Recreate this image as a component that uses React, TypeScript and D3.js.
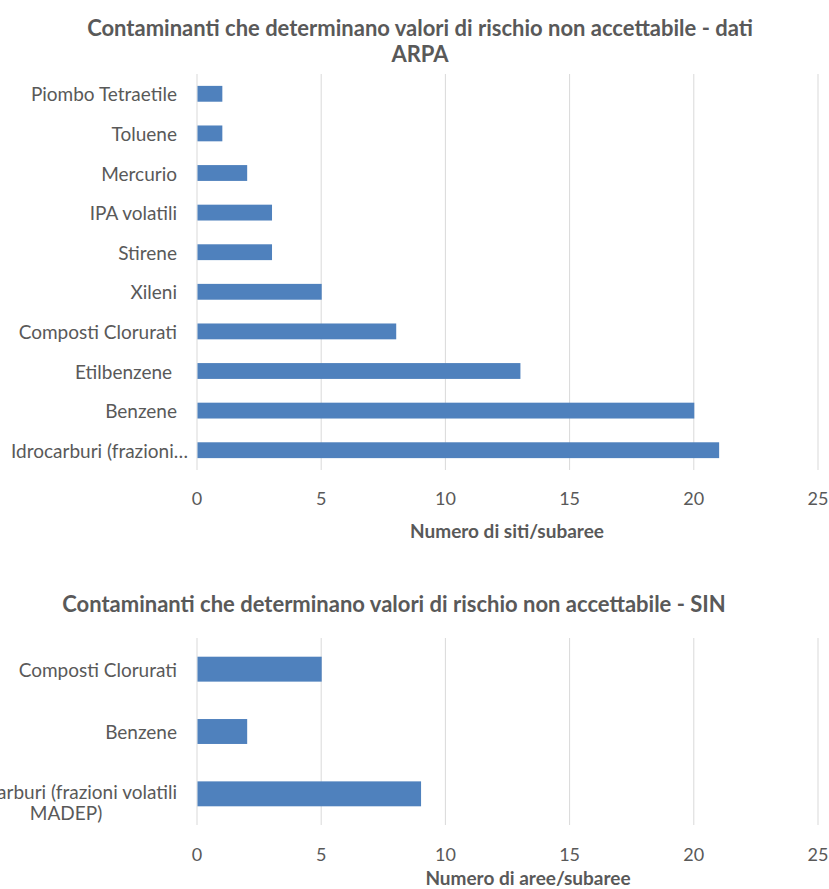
import { useEffect, useRef } from "react";
import * as d3 from "d3";

const arpaTitle = ["Contaminanti che determinano valori di rischio non accettabile - dati", "ARPA"];
const arpaCategories = [
    "Piombo Tetraetile",
    "Toluene",
    "Mercurio",
    "IPA volatili",
    "Stirene",
    "Xileni",
    "Composti Clorurati",
    "Etilbenzene ",
    "Benzene",
    "Idrocarburi (frazioni…",
];
const arpaValues = [1, 1, 2, 3, 3, 5, 8, 13, 20, 21];
const arpaAxisTitle = "Numero di siti/subaree";

const sinTitle = ["Contaminanti che determinano valori di rischio non accettabile - SIN"];
const sinCategories = ["Composti Clorurati", "Benzene", "Idrocarburi (frazioni volatili|MADEP)"];
const sinValues = [5, 2, 9];
const sinAxisTitle = "Numero di aree/subaree";

const xTicks = [0, 5, 10, 15, 20, 25];

const FONT = "Lato, 'Open Sans', sans-serif";
const TEXT = "#595959";
const GRID = "#d9d9d9";
const BAR = "#4f81bd";

export default function App() {
    const svgRef = useRef<SVGSVGElement>(null);

    useEffect(() => {
        if (!svgRef.current) return;
        const svg = d3.select(svgRef.current);
        svg.selectAll("*").remove();

        const x = d3.scaleLinear().domain([0, 25]).range([197, 818]);

        const drawChart = (opts: {
            title: string[];
            titleX: number;
            titleY: number;
            cats: string[];
            vals: number[];
            top: number;
            bottom: number;
            tickY: number;
            axisTitle: string;
            axisTitleX: number;
            axisTitleY: number;
        }) => {
            const g = svg.append("g");

            // Title
            opts.title.forEach((t, i) => {
                g.append("text")
                    .attr("x", opts.titleX)
                    .attr("y", opts.titleY + i * 26)
                    .attr("text-anchor", "middle")
                    .attr("dominant-baseline", "central")
                    .attr("font-size", "22px")
                    .attr("font-weight", "bold")
                    .attr("fill", TEXT)
                    .text(t);
            });

            const y = d3.scaleBand()
                .domain(opts.cats)
                .range([opts.top, opts.bottom])
                .paddingInner(0.6)
                .paddingOuter(0.3);

            // Grid
            g.selectAll(".grid")
                .data(xTicks)
                .join("line")
                .attr("x1", d => x(d)).attr("x2", d => x(d))
                .attr("y1", opts.top).attr("y2", opts.bottom)
                .attr("stroke", GRID)
                .attr("stroke-width", 1);

            // Bars
            g.selectAll(".bar")
                .data(opts.vals)
                .join("rect")
                .attr("x", x(0) + 0.5)
                .attr("y", (_, i) => y(opts.cats[i])!)
                .attr("width", d => x(d) - x(0))
                .attr("height", y.bandwidth())
                .attr("fill", BAR);

            // Category labels
            opts.cats.forEach(c => {
                const cy = y(c)! + y.bandwidth() / 2;
                const lines = c.split("|");
                if (lines.length === 1) {
                    const trunc = c.endsWith("…");
                    g.append("text")
                        .attr("x", trunc ? 11 : x(0) - 20)
                        .attr("y", cy)
                        .attr("text-anchor", trunc ? "start" : "end")
                        .attr("dominant-baseline", "central")
                        .attr("font-size", "19px")
                        .attr("fill", TEXT)
                        .style("white-space", "pre")
                        .text(c);
                } else {
                    const t = g.append("text")
                        .attr("font-size", "19px")
                        .attr("fill", TEXT)
                        .attr("text-anchor", "middle")
                        .attr("dominant-baseline", "central");
                    const first = t.append("tspan").attr("y", cy - 3).text(lines[0]);
                    const w = (first.node() as SVGTSpanElement).getComputedTextLength();
                    const cx = x(0) - 20 - w / 2;
                    first.attr("x", cx);
                    lines.slice(1).forEach((l, i) => {
                        t.append("tspan").attr("x", cx).attr("y", cy - 3 + (i + 1) * 21).text(l);
                    });
                }
            });

            // Tick labels
            g.selectAll(".tick")
                .data(xTicks)
                .join("text")
                .attr("x", d => x(d))
                .attr("y", opts.tickY)
                .attr("text-anchor", "middle")
                .attr("dominant-baseline", "central")
                .attr("font-size", "18px")
                .attr("fill", TEXT)
                .text(d => d);

            // Axis title
            g.append("text")
                .attr("x", opts.axisTitleX)
                .attr("y", opts.axisTitleY)
                .attr("text-anchor", "middle")
                .attr("dominant-baseline", "central")
                .attr("font-size", "19px")
                .attr("font-weight", "bold")
                .attr("fill", TEXT)
                .text(opts.axisTitle);
        };

        drawChart({
            title: arpaTitle, titleX: 420, titleY: 27,
            cats: arpaCategories, vals: arpaValues,
            top: 74, bottom: 470, tickY: 498,
            axisTitle: arpaAxisTitle, axisTitleX: 507, axisTitleY: 530,
        });

        drawChart({
            title: sinTitle, titleX: 394, titleY: 603,
            cats: sinCategories, vals: sinValues,
            top: 638, bottom: 825, tickY: 854,
            axisTitle: sinAxisTitle, axisTitleX: 528, axisTitleY: 877,
        });
    }, []);

    return (
        <div style={{ position: "absolute", left: 0, top: 0, width: 829, height: 889, background: "#fff" }}>
            <svg ref={svgRef} width={829} height={889} style={{ fontFamily: FONT, display: "block" }}></svg>
        </div>
    );
}
